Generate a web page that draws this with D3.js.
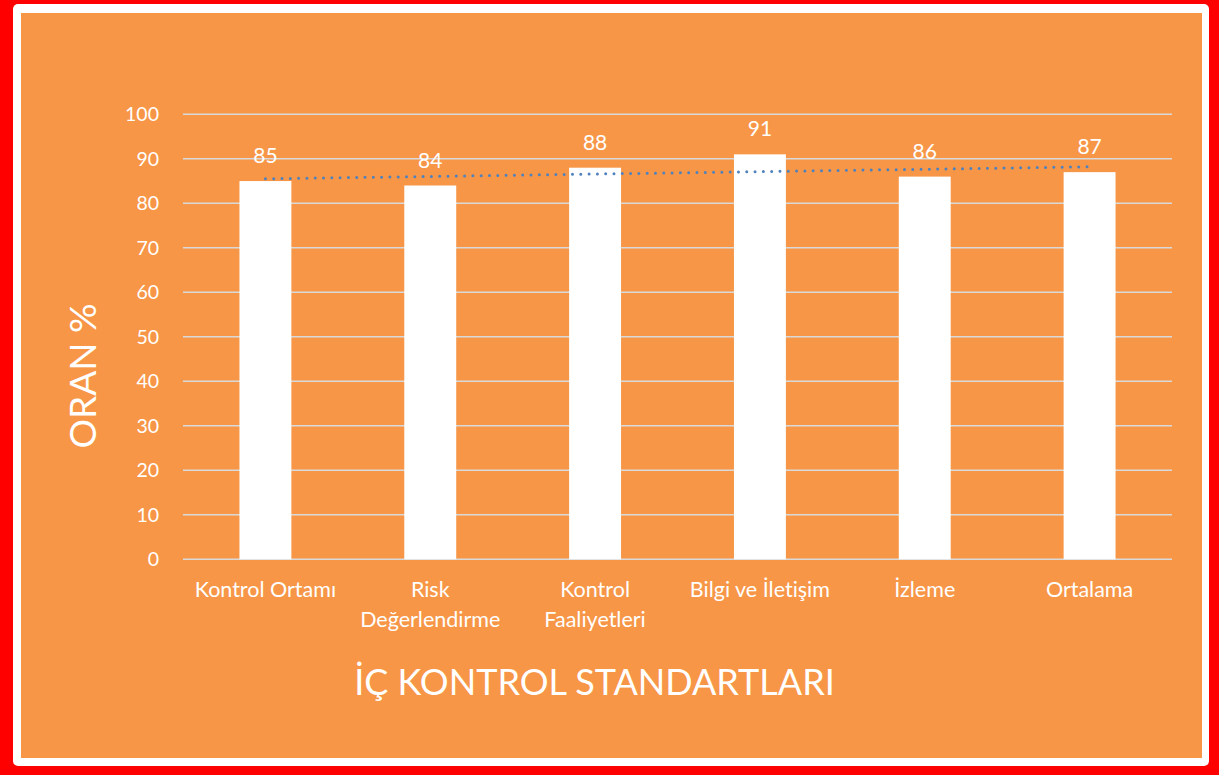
<!DOCTYPE html>
<html>
<head>
<meta charset="utf-8">
<script src="https://cdn.jsdelivr.net/npm/d3@7"></script>
<style>
  body { margin: 0; background: #ff0000; }
  svg { display: block; }
  text { font-variant-ligatures: none; }
</style>
</head>
<body>
<div id="chart"></div>
<script>
const width = 1219;
const height = 775;
const marginTop = 114.3;
const marginBottom = 215.7;
const marginLeft = 183;
const marginRight = 47;

const categories = ['Kontrol Ortamı', 'Risk Değerlendirme', 'Kontrol Faaliyetleri', 'Bilgi ve İletişim', 'İzleme', 'Ortalama'];
const categoryLines = [['Kontrol Ortamı'], ['Risk', 'Değerlendirme'], ['Kontrol', 'Faaliyetleri'], ['Bilgi ve İletişim'], ['İzleme'], ['Ortalama']];
const values = [85, 84, 88, 91, 86, 87];
// trendline read at first and last category
const trendValues = [85.5, 88.2];
const yTicks = [0, 10, 20, 30, 40, 50, 60, 70, 80, 90, 100];

const font = 'Lato, Calibri, sans-serif';

const svg = d3.select('#chart')
    .append('svg')
    .attr('width', width)
    .attr('height', height);

svg.append('rect')
    .attr('width', width)
    .attr('height', height)
    .attr('fill', '#ff0000');

svg.append('rect')
    .attr('x', 13)
    .attr('y', 4)
    .attr('width', 1196)
    .attr('height', 762)
    .attr('rx', 5)
    .attr('fill', '#ffffff');

svg.append('rect')
    .attr('x', 21)
    .attr('y', 13)
    .attr('width', 1181)
    .attr('height', 745)
    .attr('fill', '#f79646');

const x = d3.scaleBand()
    .domain(categories)
    .range([marginLeft, width - marginRight])
    .paddingInner(0.685)
    .paddingOuter(0.3425);

const y = d3.scaleLinear()
    .domain([0, 100])
    .range([height - marginBottom, marginTop]);

// gridlines
svg.append('g')
    .selectAll('line')
    .data(yTicks)
    .enter()
    .append('line')
    .attr('x1', marginLeft)
    .attr('x2', width - marginRight)
    .attr('y1', (d) => y(d))
    .attr('y2', (d) => y(d))
    .attr('stroke', '#d9d9d9')
    .attr('stroke-width', 1.6);

// y tick labels
svg.append('g')
    .selectAll('text')
    .data(yTicks)
    .enter()
    .append('text')
    .attr('x', 159)
    .attr('y', (d) => y(d))
    .attr('dy', '0.36em')
    .text((d) => d)
    .style('font-size', '19.5px')
    .style('text-anchor', 'end')
    .style('font-family', font)
    .attr('fill', '#ffffff');

// bars
svg.append('g')
    .selectAll('rect')
    .data(values)
    .enter()
    .append('rect')
    .attr('x', (d, i) => x(categories[i]))
    .attr('y', (d) => y(d))
    .attr('width', x.bandwidth())
    .attr('height', (d) => y(0) - y(d))
    .attr('fill', '#ffffff');

// data labels
svg.append('g')
    .selectAll('text')
    .data(values)
    .enter()
    .append('text')
    .attr('x', (d, i) => x(categories[i]) + x.bandwidth() / 2)
    .attr('y', (d) => y(d) - 18)
    .text((d) => d)
    .style('font-size', '21px')
    .style('text-anchor', 'middle')
    .style('font-family', font)
    .attr('fill', '#ffffff');

// trendline
const first = categories[0];
const last = categories[categories.length - 1];
svg.append('line')
    .attr('x1', x(first) + x.bandwidth() / 2)
    .attr('x2', x(last) + x.bandwidth() / 2)
    .attr('y1', y(trendValues[0]))
    .attr('y2', y(trendValues[1]))
    .attr('stroke', '#4f81bd')
    .attr('stroke-width', 3)
    .attr('stroke-linecap', 'round')
    .attr('stroke-dasharray', '0 8.3');

// category labels
const catLabels = svg.append('g')
    .selectAll('text')
    .data(categories)
    .enter()
    .append('text')
    .attr('x', (d) => x(d) + x.bandwidth() / 2)
    .attr('y', 597)
    .style('font-size', '21.5px')
    .style('text-anchor', 'middle')
    .style('font-family', font)
    .attr('fill', '#ffffff');

catLabels.selectAll('tspan')
    .data((d, i) => categoryLines[i])
    .enter()
    .append('tspan')
    .attr('x', function () { return d3.select(this.parentNode).attr('x'); })
    .attr('dy', (d, i) => (i === 0 ? 0 : 29.5))
    .text((d) => d);

// axis titles
svg.append('text')
    .attr('x', 594.5)
    .attr('y', 695)
    .text('İÇ KONTROL STANDARTLARI')
    .style('font-size', '36px')
    .style('text-anchor', 'middle')
    .style('font-family', font)
    .attr('fill', '#ffffff');

svg.append('text')
    .attr('transform', 'translate(96, 376) rotate(-90)')
    .text('ORAN %')
    .style('font-size', '37px')
    .style('text-anchor', 'middle')
    .style('font-family', font)
    .attr('fill', '#ffffff');
</script>
</body>
</html>
